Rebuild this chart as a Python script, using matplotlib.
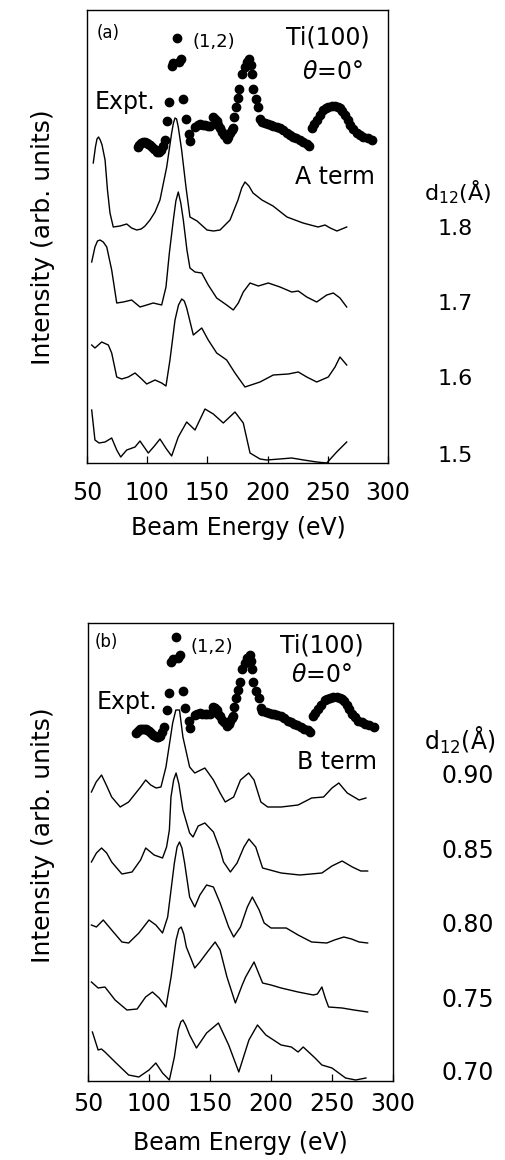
import matplotlib
matplotlib.use('Agg')
import matplotlib.pyplot as plt
import numpy as np

plt.rcParams['font.family'] = ['DejaVu Sans']
plt.rcParams['mathtext.fontset'] = 'dejavusans'

# Experimental I(V) curve of the (1,2) beam, Ti(100), theta = 0 (arb. units)
expt_e = [92, 93.5, 95, 96.5, 98, 99.5, 101, 102.5, 104, 105.5,
          107, 108.5, 110, 111.5, 113, 114.8, 116.7, 118.4, 120.2, 121.8,
          124.5, 126, 127.7, 130, 132.2, 134.7, 135.5, 139.7, 141.8, 143.9,
          146, 148, 150.1, 152.2, 154.9, 156.3, 157.7, 159.2, 160.5, 162.1,
          163.8, 166, 167.5, 168.8, 170.4, 171.5, 172.1, 173.8, 175, 176.5,
          178.5, 181.2, 182.9, 184.8, 185.8, 186.8, 187.6, 190.4, 192.3, 193.7,
          195.3, 197.8, 200.3, 202.8, 204.7, 207.4, 210.3, 212.8, 215.9, 218.6,
          221.3, 224, 226.9, 229.4, 232.5, 234.4, 236.6, 238.5, 240.8, 243.5,
          246.3, 248.5, 250.4, 253.1, 256, 258.5, 260.1, 262.2, 264.3, 266.4,
          268.4, 270.9, 274, 276.7, 279.5, 283, 286.5]
expt_i = [316, 318, 320, 321, 321, 320, 319, 318, 316, 314,
          313, 311, 311, 313, 317, 323, 342, 361, 397, 400,
          425, 401, 404, 364, 344, 329, 322, 336, 338, 339,
          338, 338, 337, 337, 346, 344, 342, 338, 335, 331,
          328, 324, 326, 330, 333, 335, 346, 356, 365, 374,
          389, 396, 401, 404, 398, 389, 374, 364, 356, 344,
          341, 340, 339, 338, 337, 336, 335, 333, 330, 328,
          326, 325, 323, 321, 319, 317, 335, 339, 343, 348,
          353, 355, 356, 357, 357, 356, 355, 352, 348, 343,
          338, 334, 330, 328, 326, 325, 323]

# (a) A term calculations, stacked, for d12 = 1.8, 1.7, 1.6, 1.5 A
a18_e = [55.2, 57, 58.3, 59.6, 61, 62.5, 65, 67, 69.1, 71.8,
         77.4, 83, 87, 91.3, 95, 98.2, 102.3, 106.5, 110.6, 116.2,
         120.3, 121.8, 123.1, 124.4, 125.8, 128.6, 132.2, 135.5, 141.4, 149.7,
         155, 160.5, 168.8, 175.4, 178.5, 181.2, 184.5, 187.9, 195.3, 204.5,
         216.1, 229.4, 241.9, 247.7, 252, 257.6, 265.7]
a18_i = [300, 316, 324, 326, 323, 318, 303, 273, 250, 236,
         237, 239, 235, 233, 234, 237, 243, 251, 263, 296,
         330, 340, 345, 344, 336, 313, 276, 246, 242, 233,
         232, 233, 243, 263, 275, 281, 277, 270, 263, 257,
         246, 240, 236, 238, 235, 232, 236]

a17_e = [53.9, 56.6, 58.7, 60.8, 63.5, 66.4, 70.5, 74.7, 80.1, 87.1,
         94, 99.6, 105, 112, 115.6, 118.4, 121.7, 123.8, 125.8, 127.9,
         130, 133, 135.5, 139.7, 145.3, 150.7, 157.7, 166, 171.5, 175.7,
         179.8, 185.4, 192.3, 200.6, 210.3, 220, 225.5, 232.5, 240.8, 249.1,
         254.6, 260.1, 265.7]
a17_i = [201, 216, 222, 223, 221, 216, 193, 160, 161, 163,
         156, 158, 160, 158, 176, 210, 243, 262, 271, 260,
         243, 213, 195, 191, 190, 178, 165, 158, 153, 160,
         171, 180, 177, 180, 176, 171, 172, 166, 161, 168,
         170, 165, 156]

a16_e = [53.9, 56.6, 62.2, 67.7, 70.5, 74.7, 78.8, 84.3, 89.9, 95.4,
         99.6, 106.5, 112, 115.6, 118.9, 123.1, 126, 128.7, 130.8, 132.8,
         138.3, 145.3, 150.7, 157.7, 166, 172.9, 181.2, 193.7, 204.7, 217.2,
         225.5, 232.5, 240.8, 250.4, 256, 260.1, 265.7]
a16_i = [118, 115, 121, 118, 110, 86, 84, 86, 90, 84,
         79, 83, 80, 77, 103, 143, 158, 164, 162, 155,
         128, 135, 123, 110, 103, 90, 76, 81, 88, 89,
         91, 86, 81, 86, 96, 106, 98]

a15_e = [53.9, 56.6, 60, 65, 70.5, 74.7, 78, 83, 89.9, 94,
         100.9, 106, 110.6, 116, 120.3, 125.8, 132.8, 139.7, 148, 154.9,
         163.2, 172.9, 179.8, 185.4, 193.7, 199.2, 210, 220, 230, 240.8,
         249.1, 257.4, 265.7]
a15_i = [53, 23, 20, 21, 25, 13, 6, 13, 16, 22,
         10, 17, 24, 14, 7, 26, 41, 33, 54, 49,
         40, 51, 40, 10, 4, 3, 4, 5, 3, 1,
         0, 11, 21]

# (b) B term calculations, stacked, for d12 = 0.90 ... 0.70 A
b90_e = [52.8, 56.7, 61.1, 65, 69.4, 76.4, 83.3, 89.2, 93.1, 97.3,
         101.4, 105.8, 109.8, 113.9, 119.4, 122, 125, 127.8, 133.3, 137.5,
         145.8, 152.8, 158.3, 162.5, 169.4, 175, 181.7, 186.1, 191.7, 197.3,
         208.3, 222.2, 233.3, 243.1, 250, 255.6, 262.5, 272.2, 277.8]
b90_i = [289, 299, 306, 296, 284, 274, 279, 288, 294, 301,
         296, 293, 294, 314, 358, 371, 371, 344, 314, 308,
         313, 301, 288, 279, 284, 301, 308, 301, 279, 274,
         274, 276, 283, 284, 293, 298, 288, 281, 283]

b85_e = [52.8, 56.9, 61.1, 65.3, 69.4, 77.8, 86.1, 93.1, 97.3, 104.2,
         111.1, 114.4, 116.7, 118, 120.2, 122.2, 124.5, 127.8, 133.3, 136.1,
         140.3, 145.8, 152.8, 158.3, 161.1, 166.7, 172.2, 177.8, 181.9, 187.5,
         193.1, 208.3, 223.6, 241.7, 250, 258.3, 266.7, 273.6, 279.2]
b85_i = [219, 228, 233, 228, 219, 207, 209, 221, 233, 226,
         223, 234, 251, 284, 301, 308, 297, 271, 248, 244,
         255, 258, 249, 231, 219, 209, 218, 234, 242, 234,
         213, 208, 206, 208, 215, 220, 214, 210, 210]

b80_e = [52.8, 56.9, 62.5, 69.4, 77.8, 83.3, 91.7, 100, 105.6, 111.1,
         115.3, 120.8, 123, 125, 127, 129.2, 133.3, 137.5, 141.7, 147.2,
         152.8, 158.3, 165.3, 169.4, 175, 180.6, 184.7, 190.3, 194.4, 200,
         212.5, 222.2, 233.3, 245.8, 252, 259.7, 266, 272.2, 279.2]
b80_i = [156, 154, 161, 151, 139, 138, 148, 161, 156, 148,
         164, 218, 234, 239, 233, 218, 184, 174, 186, 196,
         194, 178, 154, 144, 154, 174, 184, 171, 158, 153,
         153, 146, 139, 138, 141, 144, 142, 139, 138]

b75_e = [52.8, 58.3, 63.9, 72.2, 81.9, 90.3, 97.2, 102.8, 108.3, 113.9,
         118.1, 122.2, 124.5, 126.4, 128.5, 130.6, 137.5, 141.7, 147.2, 154.2,
         158.3, 163.9, 170.8, 176.4, 179.2, 186.1, 193.1, 200, 208.3, 222.2,
         234.7, 238, 241.7, 244.5, 247.2, 258.3, 268, 279.2]
b75_i = [99, 93, 94, 81, 71, 72, 84, 89, 83, 74,
         104, 141, 152, 154, 147, 134, 113, 119, 128, 139,
         131, 104, 78, 96, 104, 119, 98, 96, 93, 89,
         86, 87, 94, 83, 74, 73, 71, 69]

b70_e = [53.6, 58.3, 61, 63.9, 72.2, 83.3, 91.7, 100, 105.6, 111.1,
         116.7, 120.8, 124, 126, 127.8, 130, 133.3, 138.9, 147.2, 156.9,
         165.3, 173.6, 181.9, 188.9, 195.8, 208.3, 216.7, 222.2, 226.4, 236.1,
         241.7, 250, 261.1, 269.4, 277.8]
b70_i = [49, 31, 32, 29, 19, 6, 4, 11, 18, 8,
         1, 24, 51, 59, 61, 56, 46, 33, 48, 58,
         36, 9, 41, 56, 46, 36, 34, 29, 34, 23,
         16, 13, 3, 1, 3]

a_labels = ['1.8', '1.7', '1.6', '1.5']
b_labels = ['0.90', '0.85', '0.80', '0.75', '0.70']

# the expt curve is redrawn in (b) with a slightly different scale
b_expt_scale, b_expt_offset, b_expt_shift = 0.88, 70, -2.3

W, H = 505, 1160
fig = plt.figure(figsize=(W / 100, H / 100), dpi=100)


def px_axes(left, top, right, bottom):
    return fig.add_axes([left / W, 1 - bottom / H, (right - left) / W, (bottom - top) / H])


def fig_text(x, y, s, **kw):
    kw.setdefault('fontsize', 17)
    fig.text(x / W, 1 - y / H, s, ha='center', va='center', **kw)


def style(ax, ymax, pad):
    ax.set_xlim(50, 300)
    ax.set_ylim(0, ymax)
    ax.set_xticks([50, 100, 150, 200, 250, 300])
    ax.tick_params(axis='x', direction='in', length=5, width=0.9,
                   labelsize=17, pad=pad, top=False)
    ax.set_yticks([])
    for sp in ax.spines.values():
        sp.set_linewidth(1.0)


line_kw = dict(color='black', lw=1.0)
dot_kw = dict(ls='none', marker='o', ms=6, color='black')
theta_txt = r'$\theta$=0°'

# ---- panel (a)
ax_a = px_axes(87, 10, 388, 463)
style(ax_a, 453, 13)
for e, i in [(a18_e, a18_i), (a17_e, a17_i), (a16_e, a16_i), (a15_e, a15_i)]:
    ax_a.plot(e, i, **line_kw)
ax_a.plot(expt_e, expt_i, **dot_kw)
ax_a.text(67.7, 430, '(a)', fontsize=12, ha='center', va='center')
ax_a.text(155, 421, '(1,2)', fontsize=13, ha='center', va='center')
ax_a.text(250, 425, 'Ti(100)', fontsize=17, ha='center', va='center')
ax_a.text(254, 391, theta_txt, fontsize=17, ha='center', va='center')
ax_a.text(81.6, 361, 'Expt.', fontsize=17, ha='center', va='center')
ax_a.text(256, 286, 'A term', fontsize=17, ha='center', va='center')

fig_text(43, 237, 'Intensity (arb. units)', rotation=90, fontsize=18)
fig_text(238, 528, 'Beam Energy (eV)')
fig_text(458, 192, r'd$_{12}$(Å)', fontsize=16)
for lab, y in zip(a_labels, [229, 304, 379, 456]):
    fig_text(455, y, lab, fontsize=16)

# ---- panel (b)
ax_b = px_axes(88, 623, 393, 1081)
style(ax_b, 458, 8)
for e, i in [(b90_e, b90_i), (b85_e, b85_i), (b80_e, b80_i), (b75_e, b75_i), (b70_e, b70_i)]:
    ax_b.plot(e, i, **line_kw)
ax_b.plot(np.array(expt_e) + b_expt_shift,
          np.array(expt_i) * b_expt_scale + b_expt_offset, **dot_kw)
ax_b.text(65.3, 439, '(b)', fontsize=12, ha='center', va='center')
ax_b.text(151.4, 434, '(1,2)', fontsize=13, ha='center', va='center')
ax_b.text(241.7, 436, 'Ti(100)', fontsize=17, ha='center', va='center')
ax_b.text(241.7, 406, theta_txt, fontsize=17, ha='center', va='center')
ax_b.text(81.9, 379, 'Expt.', fontsize=17, ha='center', va='center')
ax_b.text(254, 319, 'B term', fontsize=17, ha='center', va='center')

fig_text(43, 835, 'Intensity (arb. units)', rotation=90, fontsize=18)
fig_text(240, 1143, 'Beam Energy (eV)')
fig_text(460, 740, r'd$_{12}$(Å)', fontsize=17)
for lab, y in zip(b_labels, [776, 851, 925, 1000, 1073]):
    fig_text(468, y, lab, fontsize=17)

fig.savefig('out.png', dpi=100, facecolor='white')
